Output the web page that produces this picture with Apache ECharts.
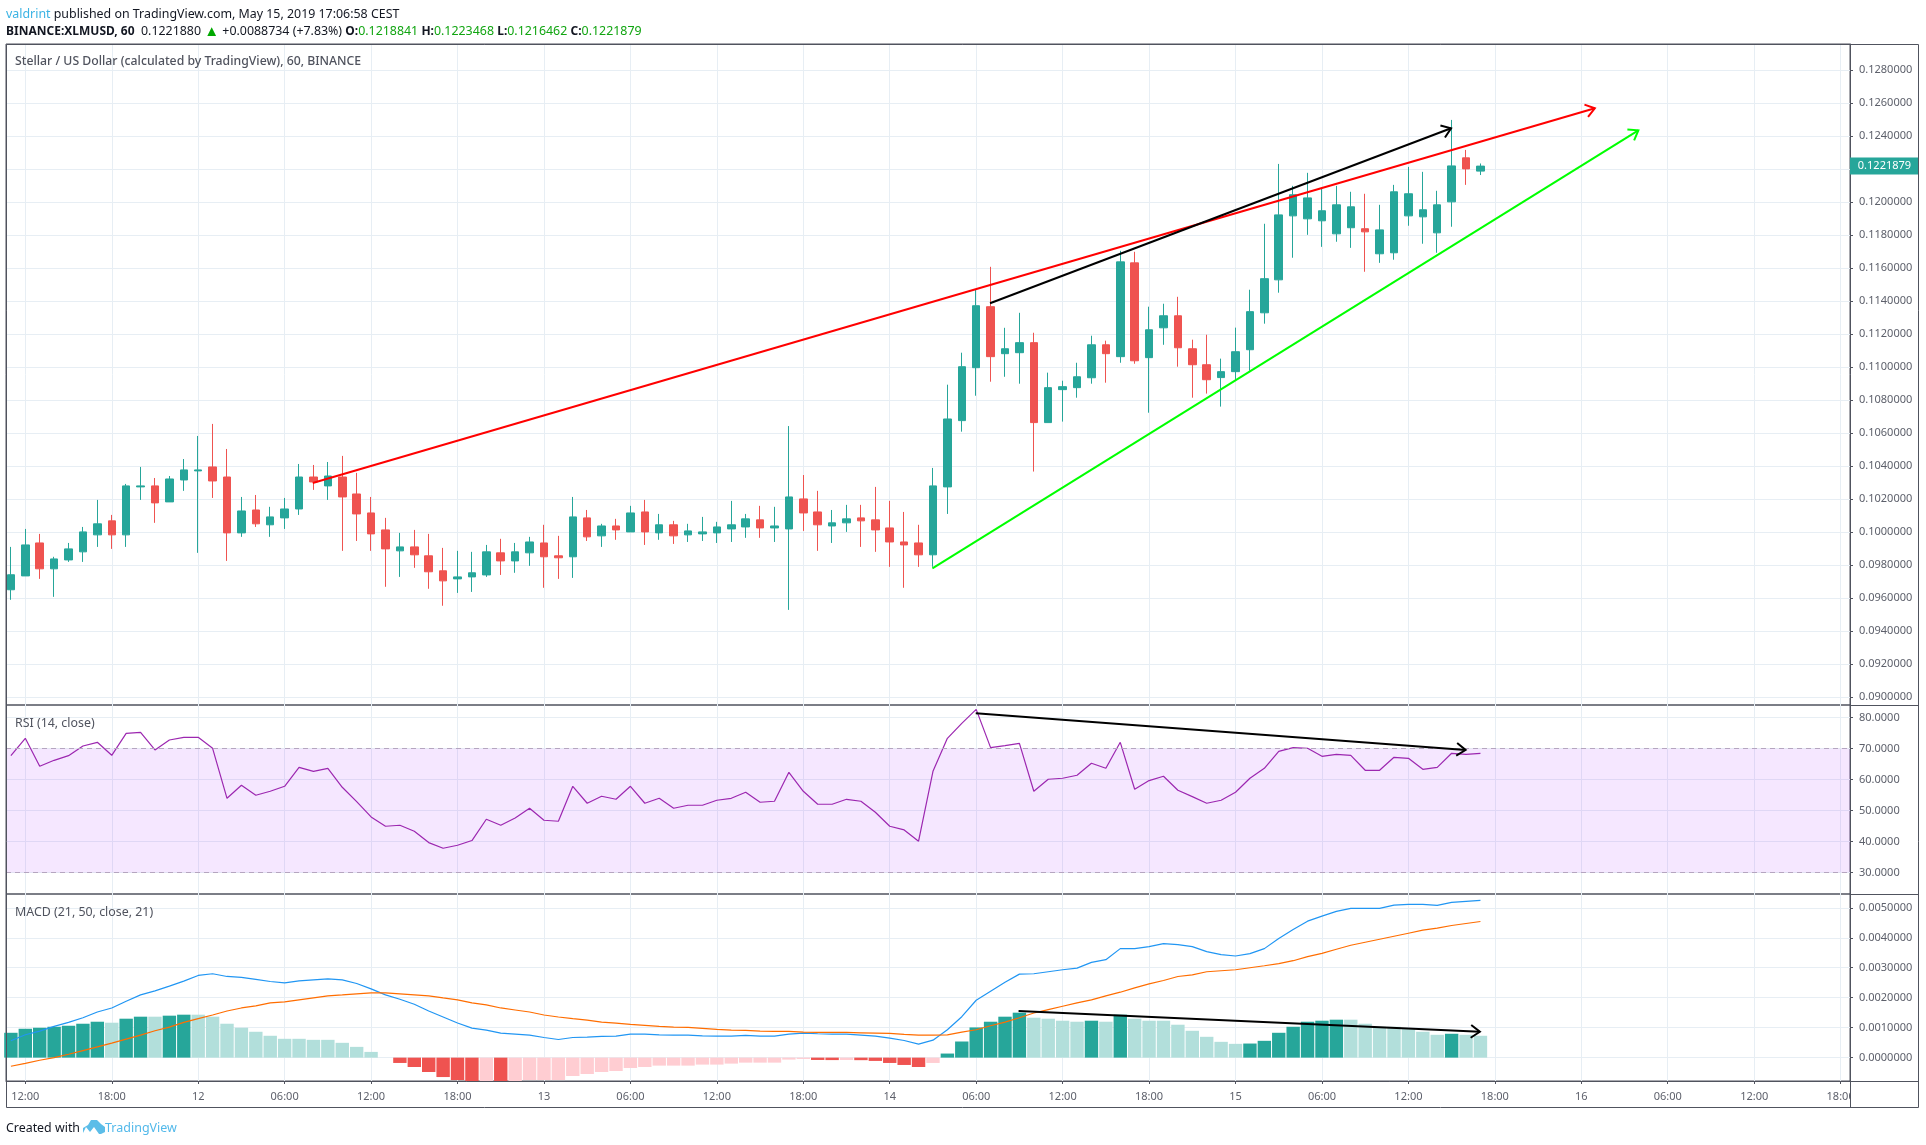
<!DOCTYPE html>
<html>
<head>
<meta charset="utf-8">
<title>XLMUSD</title>
<script src="https://cdn.jsdelivr.net/npm/echarts@6/dist/echarts.min.js"></script>
<style>
  html, body { margin: 0; padding: 0; background: #fff; }
  #chart { width: 1926px; height: 1145px; }
</style>
</head>
<body>
<div id="chart"></div>
<script>
// hourly candles, first one is May 11 11:00 (x = hours since May 11 00:00)
var firstHour = 11;
var opens = [0.09649,0.09733,0.09933,0.09776,0.09830,0.09879,0.09982,0.10067,0.09982,0.10273,0.10279,0.10182,0.10315,0.10370,0.10394,0.10333,0.09994,0.10133,0.10043,0.10085,0.10139,0.10333,0.10279,0.10333,0.10230,0.10115,0.10012,0.09885,0.09909,0.09855,0.09764,0.09715,0.09727,0.09739,0.09873,0.09824,0.09873,0.09933,0.09855,0.09849,0.10085,0.09976,0.10036,0.10000,0.10121,0.09994,0.10043,0.09982,0.09988,0.09994,0.10018,0.10030,0.10073,0.10024,0.10018,0.10200,0.10121,0.10036,0.10055,0.10085,0.10073,0.10024,0.09939,0.09933,0.09861,0.10273,0.10675,0.10996,0.11366,0.11081,0.11087,0.11148,0.10663,0.10863,0.10875,0.10935,0.11135,0.11063,0.11632,0.11057,0.11238,0.11311,0.11111,0.11014,0.10936,0.10972,0.11105,0.11329,0.11529,0.11917,0.11899,0.11887,0.11808,0.11845,0.11839,0.11687,0.11693,0.11917,0.11911,0.11814,0.12002,0.12269,0.1218841];
var closes = [0.09740,0.09921,0.09776,0.09836,0.09897,0.10000,0.10049,0.09982,0.10279,0.10279,0.10176,0.10321,0.10376,0.10376,0.10309,0.09994,0.10127,0.10049,0.10091,0.10139,0.10333,0.10303,0.10339,0.10212,0.10109,0.09988,0.09897,0.09909,0.09861,0.09758,0.09703,0.09727,0.09752,0.09879,0.09824,0.09879,0.09939,0.09849,0.09843,0.10091,0.09970,0.10036,0.10012,0.10115,0.10000,0.10043,0.09976,0.10006,0.10000,0.10030,0.10043,0.10079,0.10024,0.10036,0.10212,0.10115,0.10043,0.10055,0.10079,0.10067,0.10012,0.09939,0.09921,0.09861,0.10279,0.10685,0.11002,0.11372,0.11063,0.11111,0.11148,0.10663,0.10875,0.10881,0.10941,0.11135,0.11081,0.11638,0.11038,0.11226,0.11311,0.11117,0.11014,0.10923,0.10972,0.11093,0.11336,0.11536,0.11923,0.12045,0.12026,0.11948,0.11984,0.11972,0.11820,0.11832,0.12063,0.12051,0.11954,0.11984,0.12220,0.12202,0.1221879];
var lows = [0.09588,0.09733,0.09715,0.09606,0.09818,0.09818,0.09909,0.09897,0.09909,0.10194,0.10055,0.10182,0.10249,0.09873,0.10206,0.09824,0.09970,0.10030,0.09970,0.10018,0.10103,0.10255,0.10194,0.09885,0.09945,0.09885,0.09667,0.09727,0.09782,0.09655,0.09552,0.09630,0.09636,0.09727,0.09739,0.09752,0.09794,0.09661,0.09715,0.09721,0.09945,0.09909,0.09952,0.10000,0.09921,0.09952,0.09927,0.09939,0.09945,0.09933,0.09939,0.09964,0.09964,0.09939,0.09527,0.10006,0.09885,0.09933,0.10000,0.09909,0.09879,0.09788,0.09661,0.09788,0.09788,0.10109,0.10608,0.10826,0.10911,0.10941,0.10899,0.10366,0.10663,0.10669,0.10814,0.10899,0.10905,0.11026,0.11020,0.10723,0.11135,0.11002,0.10814,0.10839,0.10760,0.10919,0.10978,0.11263,0.11451,0.11663,0.11802,0.11729,0.11760,0.11723,0.11578,0.11632,0.11651,0.11857,0.11748,0.11693,0.11851,0.12105,0.1216462];
var highs = [0.09909,0.10018,0.09988,0.09849,0.09933,0.10030,0.10194,0.10103,0.10291,0.10394,0.10327,0.10339,0.10442,0.10582,0.10655,0.10503,0.10212,0.10224,0.10152,0.10206,0.10412,0.10406,0.10424,0.10461,0.10358,0.10212,0.10085,0.09994,0.10012,0.09988,0.09903,0.09885,0.09879,0.09921,0.09958,0.09933,0.09970,0.10043,0.09976,0.10212,0.10133,0.10049,0.10079,0.10158,0.10194,0.10109,0.10067,0.10049,0.10091,0.10061,0.10188,0.10109,0.10158,0.10152,0.10642,0.10345,0.10249,0.10133,0.10164,0.10164,0.10273,0.10188,0.10121,0.10043,0.10388,0.10893,0.11087,0.11469,0.11608,0.11238,0.11329,0.11208,0.10966,0.10917,0.11026,0.11190,0.11160,0.11705,0.11699,0.11366,0.11384,0.11426,0.11166,0.11196,0.11051,0.11239,0.11469,0.11869,0.12232,0.12099,0.12178,0.12081,0.12099,0.12063,0.12051,0.11984,0.12105,0.12214,0.12184,0.12069,0.12499,0.12317,0.1223468];

var rsiValues = [67.76,73.35,64.32,66.25,67.76,70.87,72.06,67.86,74.96,75.28,69.58,72.81,73.67,73.67,70.12,53.99,58.19,54.97,56.25,57.87,63.99,62.7,63.67,57.54,52.92,47.98,44.97,45.29,43.35,39.7,37.87,38.84,40.35,47.22,45.29,47.65,50.77,46.9,46.58,57.87,52.39,54.64,53.67,57.87,52.39,53.99,50.77,51.74,51.74,53.35,53.99,55.93,52.71,53.03,62.38,56.25,52.06,52.06,53.67,53.03,49.48,44.97,43.78,40.13,62.7,73.35,78.19,82.7,70.34,70.98,71.73,56.25,60.13,60.45,61.42,65.29,63.67,72.06,56.9,59.7,61.09,56.58,54.53,52.39,53.35,55.93,60.45,63.67,69.15,70.34,70.12,67.54,68.19,67.86,63.03,63.03,67.22,66.9,63.35,63.99,68.51,68.19,68.51];

var macdLine = [0.000561,0.000762,0.000885,0.001042,0.001176,0.001332,0.001523,0.001657,0.001881,0.002093,0.002227,0.002384,0.002552,0.002742,0.002798,0.002708,0.002675,0.002608,0.002541,0.002496,0.002563,0.002597,0.00263,0.002597,0.002474,0.002295,0.002093,0.001948,0.00178,0.001556,0.001355,0.001154,0.000986,0.000919,0.000818,0.000784,0.000751,0.000672,0.000605,0.000672,0.000684,0.000706,0.000717,0.000784,0.000784,0.000762,0.000751,0.000751,0.000729,0.000717,0.000717,0.00074,0.000717,0.000717,0.000784,0.000818,0.000796,0.000784,0.000784,0.000751,0.000717,0.00065,0.000572,0.000449,0.000583,0.00093,0.001366,0.001914,0.002216,0.002518,0.002787,0.002798,0.002865,0.002932,0.002988,0.003178,0.003268,0.003637,0.003637,0.003704,0.003805,0.003771,0.003704,0.003536,0.003436,0.003391,0.003469,0.003637,0.003972,0.004274,0.004554,0.004722,0.004878,0.004979,0.004979,0.004979,0.005091,0.005113,0.005113,0.00508,0.005181,0.005214,0.005248];
var signalLine = [-0.000289,-0.000189,-0.000088,0.000001,0.000113,0.000236,0.000359,0.000482,0.000617,0.000751,0.000896,0.001019,0.001176,0.001299,0.001422,0.001556,0.001657,0.001724,0.001825,0.001858,0.001925,0.001992,0.00206,0.002093,0.002127,0.00216,0.00216,0.002127,0.002093,0.00206,0.001992,0.001925,0.001825,0.001758,0.001657,0.00159,0.001523,0.001422,0.001355,0.001299,0.001254,0.001187,0.001154,0.001109,0.001075,0.001042,0.001019,0.001008,0.000975,0.000941,0.000919,0.000908,0.000885,0.000874,0.000874,0.000852,0.00084,0.00084,0.00084,0.000829,0.000818,0.000807,0.000773,0.000751,0.000751,0.000762,0.000852,0.00093,0.001064,0.001187,0.001332,0.001489,0.001601,0.001713,0.001825,0.001925,0.00206,0.002183,0.002328,0.002462,0.002574,0.002708,0.002764,0.002865,0.002899,0.002932,0.003,0.003066,0.003134,0.003234,0.003368,0.00348,0.003615,0.003749,0.003849,0.00395,0.004051,0.004151,0.004252,0.004319,0.004409,0.004476,0.004543];
var histValues = [0.000829,0.000963,0.000997,0.00103,0.001064,0.001131,0.001198,0.001165,0.001299,0.001366,0.001366,0.0014,0.001433,0.001433,0.001366,0.001131,0.000997,0.000863,0.000729,0.000628,0.000628,0.000594,0.000594,0.000494,0.000359,0.000191,0,-0.000178,-0.000312,-0.00048,-0.000648,-0.000749,-0.0008,-0.00079,-0.0008,-0.00078,-0.000749,-0.000749,-0.000749,-0.000614,-0.000547,-0.00048,-0.000447,-0.000346,-0.000312,-0.000267,-0.000267,-0.000267,-0.000233,-0.000233,-0.0002,-0.000167,-0.000167,-0.000167,-0.000066,-0.000044,-0.000078,-0.000082,-0.000078,-0.000085,-0.00011,-0.000178,-0.000245,-0.000312,-0.000178,0.000136,0.000538,0.001008,0.001198,0.001366,0.0015,0.001332,0.001299,0.001232,0.001198,0.001232,0.001198,0.001433,0.001299,0.001232,0.001232,0.001098,0.000896,0.000695,0.000527,0.00046,0.00047,0.000561,0.000829,0.00103,0.001198,0.001232,0.001266,0.001266,0.001131,0.00103,0.00103,0.000963,0.000863,0.000762,0.000796,0.000762,0.000729];

// tick positions and labels
var timeTicks = [12,18,24,30,36,42,48,54,60,66,72,78,84,90,96,102,108,114,120,126,132,138];
var timeLabels = ['12:00','18:00','12','06:00','12:00','18:00','13','06:00','12:00','18:00','14','06:00','12:00','18:00','15','06:00','12:00','18:00','16','06:00','12:00','18:00'];
var priceTicks = [0.09,0.092,0.094,0.096,0.098,0.1,0.102,0.104,0.106,0.108,0.11,0.112,0.114,0.116,0.118,0.12,0.122,0.124,0.126,0.128];
var rsiTicks = [30,40,50,60,70,80];
var macdTicks = [0,0.001,0.002,0.003,0.004,0.005];

// drawn trend arrows: [fromHour, fromValue, toHour, toValue]
var redTrend = [[31.95,0.10297,120.94,0.125695]];
var greenTrend = [[74.96,0.09779,123.96,0.12436]];
var blackTrend = [[78.96,0.113866,110.96,0.124482]];
var rsiTrend = [[77.97,81.42,111.97,69.58]];
var macdTrend = [[80.94,0.001557,112.96,0.000862]];
var lastPrice = 0.1221879;

var upColor = '#26a69a', downColor = '#ef5350';
var frameColor = '#50535e', gridColor = '#e7eef4', textColor = '#5d606b';
var fontFamily = '"Noto Sans", sans-serif';

var hours = opens.map(function (v, i) { return firstHour + i; });
var candleData = opens.map(function (v, i) { return [hours[i], opens[i], closes[i], lows[i], highs[i]]; });
var rsiData = rsiValues.map(function (v, i) { return [hours[i], v]; });
var macdData = macdLine.map(function (v, i) { return [hours[i], v]; });
var signalData = signalLine.map(function (v, i) { return [hours[i], v]; });
var histData = histValues.map(function (v, i) {
  var prev = i > 0 ? histValues[i - 1] : (v > 0 ? 0 : 1);
  var col;
  if (v >= 0) col = v > prev ? upColor : '#b2dfdb';
  else col = v < prev ? downColor : '#ffcdd2';
  return { value: [hours[i], v], itemStyle: { color: col } };
});

function renderArrow(params, api) {
  var a = api.coord([api.value(0), api.value(1)]);
  var b = api.coord([api.value(2), api.value(3)]);
  var ang = Math.atan2(b[1] - a[1], b[0] - a[0]);
  var len = 11, spread = 0.62;
  var h1 = [b[0] - len * Math.cos(ang - spread), b[1] - len * Math.sin(ang - spread)];
  var h2 = [b[0] - len * Math.cos(ang + spread), b[1] - len * Math.sin(ang + spread)];
  var style = { stroke: api.visual('color'), lineWidth: 2, fill: null };
  return {
    type: 'group',
    children: [
      { type: 'line', shape: { x1: a[0], y1: a[1], x2: b[0], y2: b[1] }, style: style },
      { type: 'polyline', shape: { points: [h1, b, h2] }, style: style }
    ]
  };
}

function arrowSeries(data, color, axisIndex) {
  return {
    type: 'custom',
    xAxisIndex: axisIndex,
    yAxisIndex: axisIndex,
    z: 10,
    silent: true,
    clip: false,
    itemStyle: { color: color },
    encode: { x: [0, 2], y: [1, 3] },
    data: data,
    renderItem: renderArrow
  };
}

function xAxisFor(index, showLabels) {
  return {
    type: 'value',
    gridIndex: index,
    min: 10.66,
    max: 138.65,
    position: 'bottom',
    axisLine: { show: showLabels, onZero: false, lineStyle: { color: frameColor } },
    axisTick: { show: showLabels, length: 3, customValues: timeTicks, lineStyle: { color: frameColor } },
    axisLabel: {
      show: showLabels,
      customValues: timeTicks,
      margin: 10,
      color: textColor,
      fontFamily: fontFamily,
      fontSize: 11,
      hideOverlap: false,
      formatter: function (v) { return timeLabels[timeTicks.indexOf(v)]; }
    },
    splitLine: { show: true, lineStyle: { color: gridColor } }
  };
}

function yAxisFor(index, min, max, ticks, digits) {
  return {
    type: 'value',
    gridIndex: index,
    position: 'right',
    min: min,
    max: max,
    axisLine: { show: true, onZero: false, lineStyle: { color: frameColor } },
    axisTick: { show: true, length: 3, customValues: ticks, lineStyle: { color: frameColor } },
    axisLabel: {
      customValues: ticks,
      margin: 9,
      color: textColor,
      fontFamily: fontFamily,
      fontSize: 11,
      padding: [2, 0, 0, 0],
      formatter: function (v) { return v.toFixed(digits); }
    },
    splitLine: { show: true, lineStyle: { color: gridColor } }
  };
}

var green = { color: '#11a511', fontFamily: fontFamily, fontSize: 12.4, fontWeight: 'normal' };
var black = { color: '#131722', fontFamily: fontFamily, fontSize: 12.4, fontWeight: 'normal' };
var bold = { color: '#131722', fontFamily: fontFamily, fontSize: 12, fontWeight: 'bold' };
var arrowUp = { color: '#00a800', fontFamily: fontFamily, fontSize: 15, fontWeight: 'normal' };

var option = {
  animation: false,
  backgroundColor: '#fff',
  textStyle: { fontFamily: fontFamily },
  title: [
    {
      left: 6, top: 8, padding: 0,
      text: '{u|valdrint}{t| published on TradingView.com, May 15, 2019 17:06:58 CEST}',
      textStyle: { rich: { u: { color: '#3bb3e4', fontFamily: fontFamily, fontSize: 12.4, fontWeight: 'normal' }, t: black } }
    },
    {
      left: 6, top: 24, padding: 0,
      text: '{b|BINANCE:XLMUSD, 60}{t|  0.1221880 }{a|▲}{t| +0.0088734 (+7.83%) }{b|O:}{g|0.1218841 }{b|H:}{g|0.1223468 }{b|L:}{g|0.1216462 }{b|C:}{g|0.1221879}',
      textStyle: { rich: { b: bold, t: black, g: green, a: arrowUp } }
    },
    { left: 15, top: 56, padding: 0, text: 'Stellar / US Dollar (calculated by TradingView), 60, BINANCE', textStyle: { color: '#50535e', fontSize: 12.25, fontWeight: 500, fontFamily: fontFamily } },
    { left: 15, top: 717, padding: 0, text: 'RSI (14, close)', textStyle: { color: '#50535e', fontSize: 12.4, fontWeight: 'normal', fontFamily: fontFamily } },
    { left: 15, top: 906, padding: 0, text: 'MACD (21, 50, close, 21)', textStyle: { color: '#50535e', fontSize: 12.4, fontWeight: 'normal', fontFamily: fontFamily } },
    { left: 6, top: 1122, padding: 0, text: 'Created with', textStyle: { color: '#131722', fontSize: 12.4, fontWeight: 'normal', fontFamily: fontFamily } },
    { left: 105, top: 1122, padding: 0, text: 'TradingView', textStyle: { color: '#53b9ea', fontSize: 12.5, fontWeight: 'normal', fontFamily: fontFamily } }
  ],
  grid: [
    { left: 6, width: 1844, top: 44, height: 661, show: true, borderColor: frameColor, backgroundColor: 'transparent' },
    { left: 6, width: 1844, top: 705, height: 189, show: true, borderColor: frameColor, backgroundColor: 'transparent' },
    { left: 6, width: 1844, top: 894, height: 187, show: true, borderColor: frameColor, backgroundColor: 'transparent' }
  ],
  xAxis: [xAxisFor(0, false), xAxisFor(1, false), xAxisFor(2, true)],
  yAxis: [
    yAxisFor(0, 0.0895, 0.129595, priceTicks, 7),
    yAxisFor(1, 23.1, 84.1, rsiTicks, 4),
    yAxisFor(2, -0.00078, 0.00546, macdTicks, 7)
  ],
  series: [
    {
      name: 'Candles',
      type: 'candlestick',
      xAxisIndex: 0,
      yAxisIndex: 0,
      barWidth: 8,
      itemStyle: { color: upColor, color0: downColor, borderColor: upColor, borderColor0: downColor },
      encode: { x: 0, y: [1, 2, 3, 4] },
      data: candleData,
      markPoint: {
        silent: true,
        symbol: 'rect',
        symbolSize: [69, 17],
        symbolOffset: [404, 0],
        itemStyle: { color: upColor },
        label: { show: true, color: '#fff', fontFamily: fontFamily, fontSize: 11, position: 'inside', formatter: lastPrice.toFixed(7) },
        data: [{ coord: [hours[hours.length - 1], lastPrice] }]
      }
    },
    arrowSeries(redTrend, '#ff0000', 0),
    arrowSeries(greenTrend, '#00ff00', 0),
    arrowSeries(blackTrend, '#000000', 0),
    {
      name: 'RSI',
      type: 'line',
      xAxisIndex: 1,
      yAxisIndex: 1,
      showSymbol: false,
      lineStyle: { color: '#9c27b0', width: 1.2 },
      data: rsiData,
      markArea: {
        silent: true,
        itemStyle: { color: 'rgba(153,21,255,0.1)' },
        data: [[{ yAxis: 70 }, { yAxis: 30 }]]
      },
      markLine: {
        silent: true,
        symbol: 'none',
        label: { show: false },
        lineStyle: { color: '#b5a5c0', type: [5, 4], width: 1 },
        data: [{ yAxis: 70 }, { yAxis: 30 }]
      }
    },
    arrowSeries(rsiTrend, '#000000', 1),
    {
      name: 'Histogram',
      type: 'bar',
      xAxisIndex: 2,
      yAxisIndex: 2,
      barWidth: 13.4,
      data: histData
    },
    {
      name: 'MACD',
      type: 'line',
      xAxisIndex: 2,
      yAxisIndex: 2,
      showSymbol: false,
      lineStyle: { color: '#2196f3', width: 1.2 },
      data: macdData,
      z: 4
    },
    {
      name: 'Signal',
      type: 'line',
      xAxisIndex: 2,
      yAxisIndex: 2,
      showSymbol: false,
      lineStyle: { color: '#ff6d00', width: 1.2 },
      data: signalData,
      z: 4
    },
    arrowSeries(macdTrend, '#000000', 2)
  ],
  graphic: [
    // the outer frame around panes and scales
    { type: 'rect', z: 50, silent: true, shape: { x: 1851, y: 1082, width: 67, height: 25 }, style: { fill: '#fff' } },
    { type: 'rect', z: 51, silent: true, shape: { x: 6.5, y: 44.5, width: 1912, height: 1063 }, style: { fill: null, stroke: frameColor, lineWidth: 1 } },
    { type: 'line', z: 51, silent: true, shape: { x1: 1850, y1: 705.5, x2: 1919, y2: 705.5 }, style: { stroke: frameColor } },
    { type: 'line', z: 51, silent: true, shape: { x1: 1850, y1: 894.5, x2: 1919, y2: 894.5 }, style: { stroke: frameColor } },
    { type: 'line', z: 51, silent: true, shape: { x1: 1850, y1: 1081.5, x2: 1919, y2: 1081.5 }, style: { stroke: frameColor } },
    { type: 'line', z: 51, silent: true, shape: { x1: 1850.5, y1: 1081, x2: 1850.5, y2: 1108 }, style: { stroke: frameColor } },
    // TradingView logo
    { type: 'polygon', z: 51, silent: true, shape: { points: [[83,1133],[83,1128],[88,1125],[91,1120],[97,1120],[101,1124],[105,1127],[105,1132],[101,1134],[99,1134],[94,1127],[90,1132],[86,1127]] }, style: { fill: '#5cbde8' } }
  ]
};

var chart = echarts.init(document.getElementById('chart'));
chart.setOption(option);
</script>
</body>
</html>
